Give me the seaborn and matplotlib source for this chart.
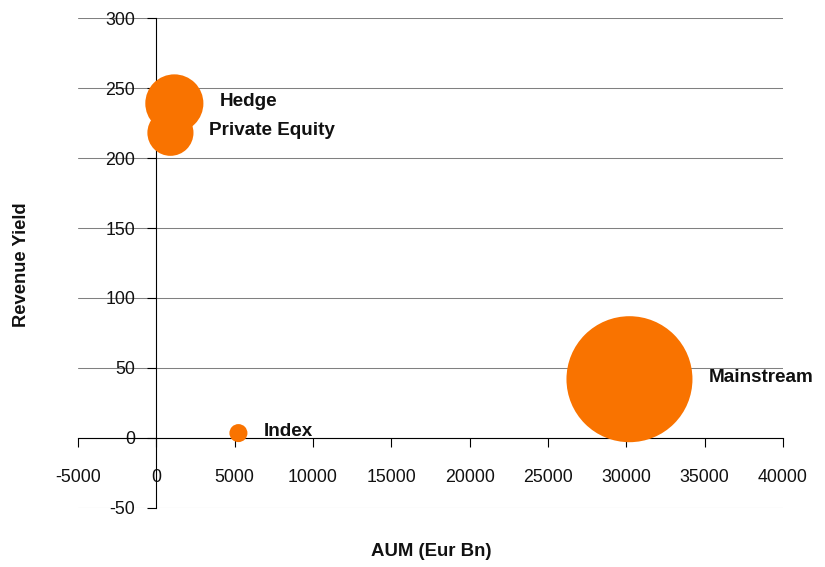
import matplotlib
matplotlib.use("Agg")
import matplotlib.pyplot as plt
import seaborn as sns
import pandas as pd
import numpy as np

# Data
categories = ["Hedge", "Private Equity", "Index", "Mainstream"]
aum = [1150, 900, 5240, 30200]          # AUM (Eur Bn)
revenue_yield = [239, 218, 3.5, 42]     # Revenue Yield
bubble_size = [270, 170, 26, 1270]      # bubble size value (area-proportional)

x_ticks = list(range(-5000, 40001, 5000))
y_ticks = list(range(-50, 301, 50))

sns.set_theme(style="white")
plt.rcParams['font.family'] = ['Liberation Sans', 'DejaVu Sans']

df = pd.DataFrame({"AUM": aum, "Yield": revenue_yield,
                   "Size": bubble_size, "Category": categories})

fig = plt.figure(figsize=(8.25, 5.67), dpi=100)
ax = fig.add_axes([78/825, 59/567, 705/825, 490/567])

max_area = 8230.0
bubble_color = "#F97300"
sns.scatterplot(data=df, x="AUM", y="Yield", size="Size",
                sizes=(0, max_area), size_norm=(0, max(bubble_size)),
                color=bubble_color, linewidth=0, legend=False, ax=ax,
                zorder=5, alpha=1)

for cat, x, y, v in zip(categories, aum, revenue_yield, bubble_size):
    area = max_area * v / max(bubble_size)
    r_pt = np.sqrt(area) / 2
    ax.annotate(cat, (x, y), xytext=(r_pt + 11.5, 1.5), textcoords="offset points",
                ha="left", va="center", fontsize=13.6, fontweight="bold",
                color="#111111", zorder=6)

ax.set_xlim(-5000, 40000)
ax.set_ylim(-50, 300)
ax.set_xticks(x_ticks)
ax.set_yticks(y_ticks)
ax.set_xticklabels([str(t) for t in x_ticks])
ax.set_yticklabels([str(t) for t in y_ticks])

ax.spines['left'].set_position(('data', 0))
ax.spines['bottom'].set_position(('data', 0))
ax.spines['top'].set_visible(False)
ax.spines['right'].set_visible(False)
for sp in ('left', 'bottom'):
    ax.spines[sp].set_color('black')
    ax.spines[sp].set_linewidth(0.8)
    ax.spines[sp].set_zorder(3)

ax.yaxis.grid(True, color='#808080', linewidth=0.75)
ax.xaxis.grid(False)
ax.set_axisbelow(True)

ax.tick_params(axis='both', which='major', direction='out', length=6.5,
               width=0.8, color='black', labelsize=12.8, labelcolor='#111111',
               bottom=True, left=True)
ax.tick_params(axis='x', pad=16.0)
ax.tick_params(axis='y', pad=8.6)
ax.set_xlabel("")
ax.set_ylabel("")

fig.text(22/825, 1 - 265/567, "Revenue Yield", rotation=90, ha="center",
         va="center", fontsize=13.2, fontweight="bold", color="#111111")
fig.text(431/825, 1 - 551/567, "AUM (Eur Bn)", ha="center", va="center",
         fontsize=13.4, fontweight="bold", color="#111111")

fig.savefig("out.png", dpi=100)
